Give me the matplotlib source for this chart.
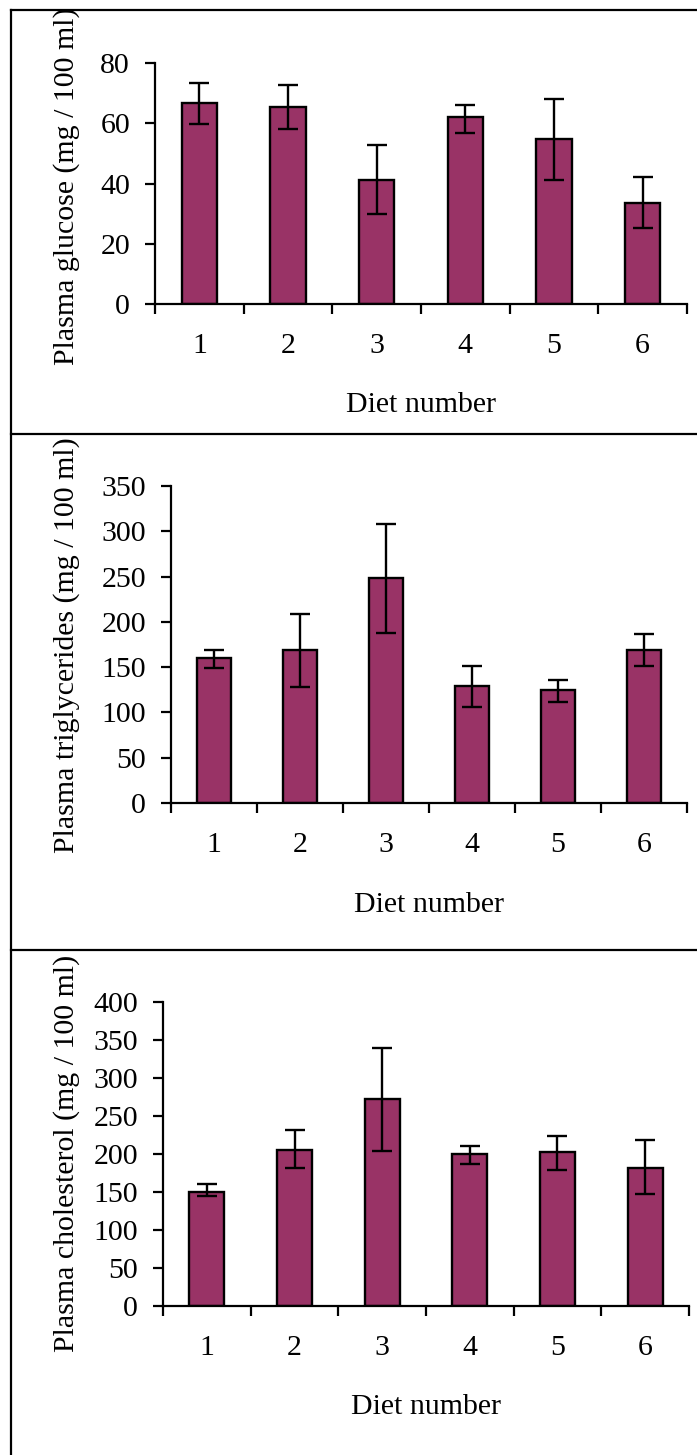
import matplotlib
matplotlib.use("Agg")
import matplotlib.pyplot as plt
from matplotlib.lines import Line2D

diets = [1, 2, 3, 4, 5, 6]

glucose = [66.6, 65.4, 41.3, 62.2, 54.7, 33.4]
glucose_lo = [7.0, 7.4, 11.3, 5.5, 13.4, 8.1]
glucose_hi = [6.8, 7.3, 11.5, 3.9, 13.5, 8.6]
glucose_ticks = [0, 20, 40, 60, 80]

trig = [160.5, 169.0, 248.5, 129.5, 125.0, 169.0]
trig_lo = [11.0, 41.0, 61.0, 24.0, 13.0, 17.5]
trig_hi = [8.5, 40.0, 60.0, 22.0, 11.0, 17.5]
trig_ticks = [0, 50, 100, 150, 200, 250, 300, 350]

chol = [149.6, 204.8, 273.0, 199.6, 202.6, 181.1]
chol_lo = [5.3, 23.7, 68.4, 13.2, 24.1, 34.2]
chol_hi = [10.5, 26.3, 66.3, 10.5, 20.6, 36.9]
chol_ticks = [0, 50, 100, 150, 200, 250, 300, 350, 400]

W, H = 697, 1455
BAR = '#993366'

plt.rcParams['font.family'] = ['Liberation Serif', 'DejaVu Serif']
plt.rcParams['font.size'] = 21.5

fig = plt.figure(figsize=(W / 100, H / 100), dpi=100)


def add_panel(left, top, right, bottom, values, lo, hi, ticks, ylabel, label_y):
    ax = fig.add_axes([left / W, 1 - bottom / H, (right - left) / W, (bottom - top) / H])
    ax.bar(diets, values, width=0.4, color=BAR, edgecolor='black', linewidth=1.7,
           yerr=[lo, hi], error_kw=dict(ecolor='black', elinewidth=1.7,
                                        capsize=7, capthick=1.7))
    ax.set_xlim(0.5, 6.5)
    ax.set_ylim(0, ticks[-1])
    ax.set_yticks(ticks)
    ax.set_xticks([d - 0.5 for d in diets] + [6.5])
    ax.set_xticklabels([])
    ax.set_xticks(diets, minor=True)
    ax.set_xticklabels([str(d) for d in diets], minor=True)
    ax.tick_params(axis='x', which='major', direction='out', length=7, width=1.6)
    ax.tick_params(axis='x', which='minor', length=0, pad=21)
    ax.tick_params(axis='y', direction='out', length=7, width=1.6, pad=11)
    for side in ('top', 'right'):
        ax.spines[side].set_visible(False)
    for side in ('left', 'bottom'):
        ax.spines[side].set_linewidth(1.6)
    ax.set_xlabel('Diet number', labelpad=24)
    fig.text(67 / W, 1 - label_y / H, ylabel, rotation=90, ha='center', va='center')
    return ax


add_panel(155, 63, 687, 304, glucose, glucose_lo, glucose_hi, glucose_ticks,
          'Plasma glucose (mg / 100 ml)', 186)
add_panel(171, 486, 687, 803, trig, trig_lo, trig_hi, trig_ticks,
          'Plasma triglycerides (mg / 100 ml)', 645)
add_panel(163, 1002, 689, 1306, chol, chol_lo, chol_hi, chol_ticks,
          'Plasma cholesterol (mg / 100 ml)', 1153)

# outer frame and panel dividers
for x0, y0, x1, y1 in [(11, 10, 697, 10), (11, 10, 11, 1455),
                       (11, 434, 697, 434), (11, 950, 697, 950)]:
    fig.add_artist(Line2D([x0 / W, x1 / W], [1 - y0 / H, 1 - y1 / H],
                          color='black', linewidth=1.6))

plt.savefig('out.png', dpi=100)
